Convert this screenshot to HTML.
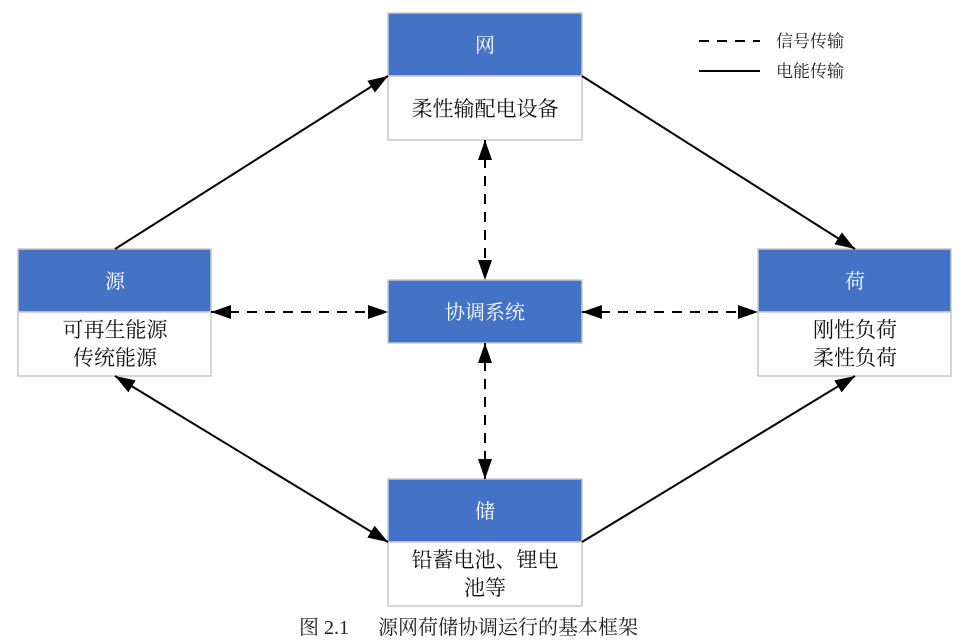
<!DOCTYPE html>
<html><head><meta charset="utf-8"><style>
html,body{margin:0;padding:0;background:#fff;}
svg{display:block;}
text{font-family:"Liberation Serif","Noto Serif CJK SC","Noto Sans CJK SC",serif;}
</style></head><body>
<svg width="976" height="641" viewBox="0 0 976 641" xmlns="http://www.w3.org/2000/svg">
<defs>
<marker id="a" markerWidth="20" markerHeight="14" refX="20" refY="7" orient="auto" markerUnits="userSpaceOnUse">
<path d="M0,0 L20,7 L0,14 Z" fill="#000"/>
</marker>
<marker id="s" markerWidth="20" markerHeight="14" refX="0" refY="7" orient="auto" markerUnits="userSpaceOnUse">
<path d="M20,0 L0,7 L20,14 Z" fill="#000"/>
</marker>
</defs>
<g stroke="#c8c8c8" stroke-width="1.5">
<rect x="388" y="13" width="194" height="63" fill="#4472c4"/>
<rect x="388" y="76" width="194" height="64" fill="#fff"/>
<rect x="18" y="249" width="193" height="63" fill="#4472c4"/>
<rect x="18" y="312" width="193" height="64" fill="#fff"/>
<rect x="758" y="249" width="193" height="63" fill="#4472c4"/>
<rect x="758" y="312" width="193" height="64" fill="#fff"/>
<rect x="388" y="280" width="194" height="63" fill="#4472c4"/>
<rect x="388" y="479" width="194" height="63" fill="#4472c4"/>
<rect x="388" y="542" width="194" height="64" fill="#fff"/>
</g>
<g font-size="20" fill="#fff" text-anchor="middle" font-family="'Noto Sans CJK SC',sans-serif">
<text x="485" y="52">网</text>
<text x="115" y="288">源</text>
<text x="855" y="288">荷</text>
<text x="485" y="319">协调系统</text>
<text x="485" y="518">储</text>
</g>
<g font-size="21" fill="#111" text-anchor="middle">
<text x="485" y="116">柔性输配电设备</text>
<text x="115" y="337">可再生能源</text>
<text x="115" y="365">传统能源</text>
<text x="855" y="337">刚性负荷</text>
<text x="855" y="365">柔性负荷</text>
<text x="485" y="567">铅蓄电池、锂电</text>
<text x="485" y="595">池等</text>
</g>
<g stroke="#000" stroke-width="2" fill="none">
<line x1="115" y1="249" x2="388" y2="76" marker-end="url(#a)"/>
<line x1="582" y1="76" x2="855" y2="249" marker-end="url(#a)"/>
<line x1="115" y1="376" x2="388" y2="542" marker-start="url(#s)" marker-end="url(#a)"/>
<line x1="582" y1="542" x2="855" y2="376" marker-end="url(#a)"/>
</g>
<g stroke="#000" stroke-width="2" fill="none" stroke-dasharray="10,8">
<line x1="485" y1="140" x2="485" y2="280" marker-start="url(#s)" marker-end="url(#a)"/>
<line x1="485" y1="343" x2="485" y2="479" marker-start="url(#s)" marker-end="url(#a)"/>
<line x1="211" y1="312" x2="388" y2="312" marker-start="url(#s)" marker-end="url(#a)"/>
<line x1="582" y1="312" x2="758" y2="312" marker-start="url(#s)" marker-end="url(#a)"/>
<line x1="699" y1="41" x2="760" y2="41"/>
</g>
<line x1="699" y1="71" x2="760" y2="71" stroke="#000" stroke-width="2"/>
<g font-size="17" fill="#222">
<text x="776" y="47">信号传输</text>
<text x="776" y="77">电能传输</text>
</g>
<text x="299" y="634" font-size="20" fill="#222">图 2.1</text>
<text x="378" y="634" font-size="20" fill="#222">源网荷储协调运行的基本框架</text>
</svg>
</body></html>
